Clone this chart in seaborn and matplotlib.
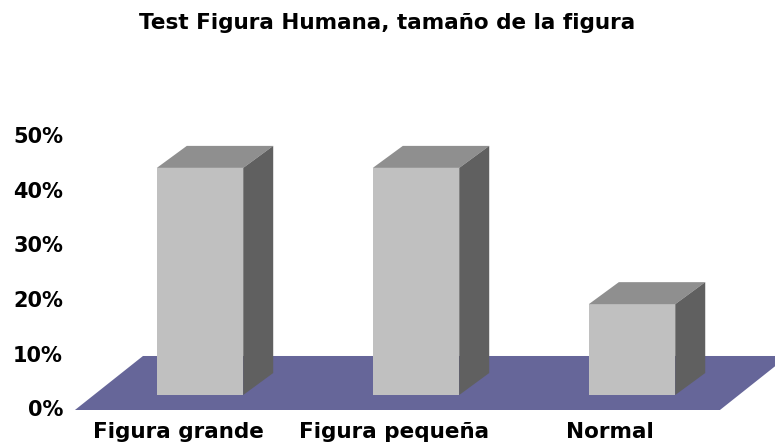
import matplotlib
matplotlib.use("Agg")
import matplotlib.pyplot as plt
import matplotlib.transforms as mtransforms
from matplotlib.patches import Polygon
import seaborn as sns
import pandas as pd

categories = ["Figura grande", "Figura pequeña", "Normal"]
values = [41.67, 41.67, 16.67]
yticks = [0, 10, 20, 30, 40, 50]
ytick_labels = ["0%", "10%", "20%", "30%", "40%", "50%"]
title = "Test Figura Humana, tamaño de la figura"

sns.set_theme(style="white")
plt.rcParams["font.family"] = ["DejaVu Sans"]
plt.rcParams["text.color"] = "black"
plt.rcParams["xtick.color"] = "black"
plt.rcParams["ytick.color"] = "black"
plt.rcParams["xtick.labelcolor"] = "black"
plt.rcParams["ytick.labelcolor"] = "black"

W, H = 775, 448
fig = plt.figure(figsize=(W / 100, H / 100), dpi=100)
fig.patch.set_facecolor("white")

# axes placement in pixels
left_px, right_px = 70.4, 774.6
top_px, bottom_px = 119.6, 411.2
ax = fig.add_axes([left_px / W, (H - bottom_px) / H,
                   (right_px - left_px) / W, (bottom_px - top_px) / H])

df = pd.DataFrame({"cat": categories, "val": values})
sns.barplot(data=df, x="cat", y="val", color="#C0C0C0", width=0.4,
            saturation=1, edgecolor="none", linewidth=0, ax=ax, zorder=2)

ax.set_xlim(-0.6, 2.66)
ax.set_ylim(-2.97, 50.53)

# depth of the 3D effect, in data units
ddx = 30 / 216
ddy = 22 / 5.45

# floor
fl_front, fl_back = -2.75, 7.16
floor = Polygon([(-0.579, fl_front), (2.407, fl_front),
                 (2.722, fl_back), (-0.264, fl_back)],
                closed=True, facecolor="#666699", edgecolor="none", zorder=1)
ax.add_patch(floor)

# top and side faces of each bar
for p in list(ax.patches):
    if p is floor:
        continue
    x0 = p.get_x()
    w = p.get_width()
    h = p.get_height()
    top = Polygon([(x0, h), (x0 + w, h), (x0 + w + ddx, h + ddy), (x0 + ddx, h + ddy)],
                  closed=True, facecolor="#8F8F8F", edgecolor="none", zorder=2)
    side = Polygon([(x0 + w, 0), (x0 + w + ddx, ddy), (x0 + w + ddx, h + ddy), (x0 + w, h)],
                   closed=True, facecolor="#606060", edgecolor="none", zorder=2)
    ax.add_patch(top)
    ax.add_patch(side)

ax.set_yticks(yticks)
ax.set_yticklabels(ytick_labels, fontsize=15, fontweight="bold", color="black")
ax.tick_params(axis="y", length=0, pad=5.3, labelcolor="black")
ax.tick_params(axis="x", length=0, pad=8, labelcolor="black")
ax.set_xticks(range(len(categories)))
ax.set_xticklabels(categories, fontsize=15.5, fontweight="bold", color="black")
ax.set_xlabel("")
ax.set_ylabel("")
for s in ax.spines.values():
    s.set_visible(False)
ax.grid(False)
ax.set_facecolor("none")

yoff = mtransforms.ScaledTranslation(0, -13 / 100, fig.dpi_scale_trans)
for lab in ax.get_yticklabels():
    lab.set_transform(lab.get_transform() + yoff)
xoff = mtransforms.ScaledTranslation(-22 / 100, 0, fig.dpi_scale_trans)
for lab in ax.get_xticklabels():
    lab.set_transform(lab.get_transform() + xoff)

fig.text(0.5, 1 - 23 / H, title, ha="center", va="center",
         fontsize=15.5, fontweight="bold", color="black")

fig.savefig("out.png", dpi=100, facecolor="white")
